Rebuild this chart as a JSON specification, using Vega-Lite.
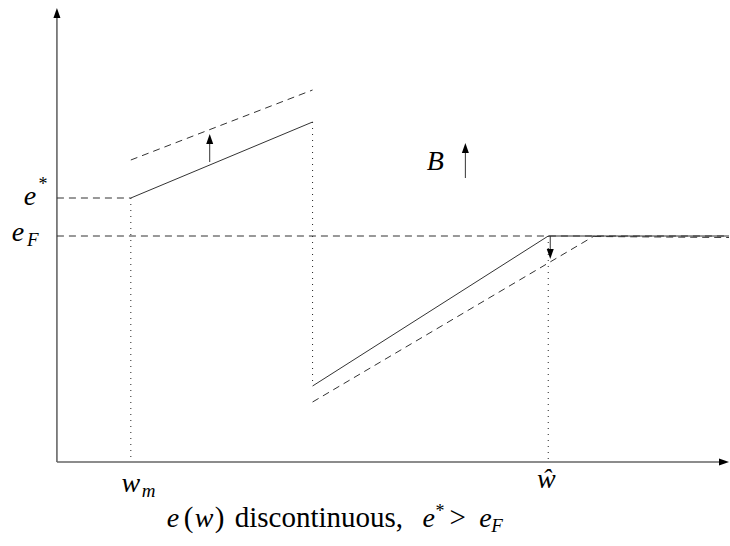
{
  "$schema": "https://vega.github.io/schema/vega-lite/v6.json",
  "width": 730,
  "height": 546,
  "autosize": {"type": "fit", "contains": "padding"},
  "padding": 0,
  "background": "white",
  "config": {"view": {"stroke": null}},
  "datasets": {
    "segments": [
      {"kind": "axis", "x": 0, "y": 0, "x2": 0, "y2": 44.6},
      {"kind": "axis", "x": 0, "y": 0, "x2": 66.5, "y2": 0},
      {"kind": "dashed", "x": 0, "y": 26.4, "x2": 7.4, "y2": 26.4},
      {"kind": "dashed", "x": 0, "y": 22.6, "x2": 67.3, "y2": 22.6},
      {"kind": "dashed", "x": 7.4, "y": 30.2, "x2": 25.6, "y2": 37.2},
      {"kind": "dashed", "x": 25.6, "y": 6.0, "x2": 53.8, "y2": 22.6},
      {"kind": "dashed", "x": 53.8, "y": 22.55, "x2": 67.3, "y2": 22.45},
      {"kind": "solid", "x": 7.4, "y": 26.4, "x2": 25.6, "y2": 34.0},
      {"kind": "solid", "x": 25.6, "y": 7.6, "x2": 49.2, "y2": 22.6},
      {"kind": "solid", "x": 49.2, "y": 22.6, "x2": 67.3, "y2": 22.6},
      {"kind": "solid", "x": 15.3, "y": 30.0, "x2": 15.3, "y2": 31.9},
      {"kind": "solid", "x": 40.9, "y": 28.4, "x2": 40.9, "y2": 30.9},
      {"kind": "solid", "x": 49.4, "y": 22.6, "x2": 49.4, "y2": 21.2},
      {"kind": "dotted", "x": 7.4, "y": 26.4, "x2": 7.4, "y2": 0},
      {"kind": "dotted", "x": 25.6, "y": 34.0, "x2": 25.6, "y2": 7.6},
      {"kind": "dotted", "x": 49.2, "y": 22.6, "x2": 49.2, "y2": 0}
    ],
    "heads": [
      {"dir": "up", "x": 0, "y": 44.9},
      {"dir": "right", "x": 66.8, "y": 0},
      {"dir": "up", "x": 15.3, "y": 32.3},
      {"dir": "up", "x": 40.9, "y": 31.4},
      {"dir": "down", "x": 49.4, "y": 20.8}
    ],
    "labels": [
      {"role": "math", "text": "e", "x": -2.7, "y": 25.7},
      {"role": "sup", "text": "*", "x": -1.4, "y": 27.2},
      {"role": "math", "text": "e", "x": -3.9, "y": 22.1},
      {"role": "subm", "text": "F", "x": -3.0, "y": 21.6},
      {"role": "math", "text": "w", "x": 7.4, "y": -3.0},
      {"role": "subm", "text": "m", "x": 8.5, "y": -3.5},
      {"role": "math", "text": "ŵ", "x": 49.0, "y": -2.6},
      {"role": "math", "text": "B", "x": 37.9, "y": 29.2}
    ],
    "caption": [
      {"role": "math", "text": "e", "x": 11.0, "y": -6.5},
      {"role": "roman", "text": "(", "x": 12.7, "y": -6.5},
      {"role": "math", "text": "w", "x": 13.8, "y": -6.5},
      {"role": "roman", "text": ")", "x": 15.8, "y": -6.5},
      {"role": "roman", "text": "discontinuous,", "x": 17.8, "y": -6.5},
      {"role": "math", "text": "e", "x": 36.6, "y": -6.5},
      {"role": "sup", "text": "*", "x": 37.9, "y": -5.5},
      {"role": "roman", "text": ">", "x": 39.3, "y": -6.5},
      {"role": "math", "text": "e", "x": 42.3, "y": -6.5},
      {"role": "subm", "text": "F", "x": 43.5, "y": -7.0}
    ]
  },
  "encoding": {
    "x": {"type": "quantitative", "scale": {"domain": [-5.7, 67.3], "nice": false, "zero": false}, "axis": null},
    "y": {"type": "quantitative", "scale": {"domain": [-8.4, 46.2], "nice": false, "zero": false}, "axis": null}
  },
  "layer": [
    {
      "data": {"name": "segments"},
      "transform": [{"filter": "datum.kind === 'axis'"}],
      "mark": {"type": "rule", "stroke": "#666666", "strokeWidth": 1.6},
      "encoding": {"x": {"field": "x"}, "y": {"field": "y"}, "x2": {"field": "x2"}, "y2": {"field": "y2"}}
    },
    {
      "data": {"name": "segments"},
      "transform": [{"filter": "datum.kind === 'dashed'"}],
      "mark": {"type": "rule", "stroke": "#333333", "strokeWidth": 1, "strokeDash": [7, 5]},
      "encoding": {"x": {"field": "x"}, "y": {"field": "y"}, "x2": {"field": "x2"}, "y2": {"field": "y2"}}
    },
    {
      "data": {"name": "segments"},
      "transform": [{"filter": "datum.kind === 'dotted'"}],
      "mark": {"type": "rule", "stroke": "#222222", "strokeWidth": 1, "strokeDash": [1, 5]},
      "encoding": {"x": {"field": "x"}, "y": {"field": "y"}, "x2": {"field": "x2"}, "y2": {"field": "y2"}}
    },
    {
      "data": {"name": "segments"},
      "transform": [{"filter": "datum.kind === 'solid'"}],
      "mark": {"type": "rule", "stroke": "#333333", "strokeWidth": 1},
      "encoding": {"x": {"field": "x"}, "y": {"field": "y"}, "x2": {"field": "x2"}, "y2": {"field": "y2"}}
    },
    {
      "data": {"name": "heads"},
      "mark": {"type": "point", "filled": true, "color": "black", "opacity": 1, "size": 100, "strokeWidth": 0},
      "encoding": {
        "x": {"field": "x"},
        "y": {"field": "y"},
        "shape": {
          "field": "dir",
          "type": "nominal",
          "legend": null,
          "scale": {
            "domain": ["up", "down", "right"],
            "range": ["M0,-1L0.7,1L-0.7,1Z", "M0,1L0.7,-1L-0.7,-1Z", "M1,0L-1,0.7L-1,-0.7Z"]
          }
        }
      }
    },
    {
      "data": {"name": "labels"},
      "transform": [{"filter": "datum.role === 'math'"}],
      "mark": {"type": "text", "font": "Liberation Serif", "fontStyle": "italic", "fontSize": 28, "align": "center", "baseline": "alphabetic", "color": "black"},
      "encoding": {"x": {"field": "x"}, "y": {"field": "y"}, "text": {"field": "text"}}
    },
    {
      "data": {"name": "labels"},
      "transform": [{"filter": "datum.role === 'sup'"}],
      "mark": {"type": "text", "font": "Liberation Serif", "fontSize": 18, "align": "center", "baseline": "alphabetic", "color": "black"},
      "encoding": {"x": {"field": "x"}, "y": {"field": "y"}, "text": {"field": "text"}}
    },
    {
      "data": {"name": "labels"},
      "transform": [{"filter": "datum.role === 'subm'"}],
      "mark": {"type": "text", "font": "Liberation Serif", "fontStyle": "italic", "fontSize": 19, "align": "left", "baseline": "alphabetic", "color": "black"},
      "encoding": {"x": {"field": "x"}, "y": {"field": "y"}, "text": {"field": "text"}}
    },
    {
      "data": {"name": "caption"},
      "transform": [{"filter": "datum.role === 'math'"}],
      "mark": {"type": "text", "font": "Liberation Serif", "fontStyle": "italic", "fontSize": 28, "align": "left", "baseline": "alphabetic", "color": "black"},
      "encoding": {"x": {"field": "x"}, "y": {"field": "y"}, "text": {"field": "text"}}
    },
    {
      "data": {"name": "caption"},
      "transform": [{"filter": "datum.role === 'roman'"}],
      "mark": {"type": "text", "font": "Liberation Serif", "fontSize": 29, "align": "left", "baseline": "alphabetic", "color": "black"},
      "encoding": {"x": {"field": "x"}, "y": {"field": "y"}, "text": {"field": "text"}}
    },
    {
      "data": {"name": "caption"},
      "transform": [{"filter": "datum.role === 'sup'"}],
      "mark": {"type": "text", "font": "Liberation Serif", "fontSize": 18, "align": "left", "baseline": "alphabetic", "color": "black"},
      "encoding": {"x": {"field": "x"}, "y": {"field": "y"}, "text": {"field": "text"}}
    },
    {
      "data": {"name": "caption"},
      "transform": [{"filter": "datum.role === 'subm'"}],
      "mark": {"type": "text", "font": "Liberation Serif", "fontStyle": "italic", "fontSize": 19, "align": "left", "baseline": "alphabetic", "color": "black"},
      "encoding": {"x": {"field": "x"}, "y": {"field": "y"}, "text": {"field": "text"}}
    }
  ]
}
